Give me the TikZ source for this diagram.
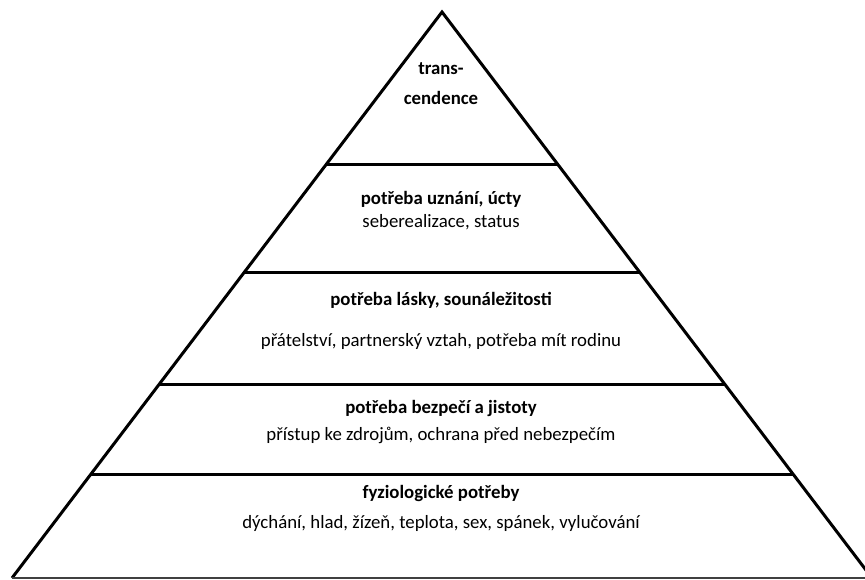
\documentclass[tikz,border=0pt]{standalone}
\usepackage{fontspec}
\setmainfont{Carlito}
\usetikzlibrary{calc}
\begin{document}
\begin{tikzpicture}[x=1pt,y=-1pt,
  edge/.style={line width=3pt,line join=miter},
  level/.style={line width=3pt},
  base/.style={line width=1.6pt,black!75},
  title/.style={font=\fontsize{18.8}{22}\selectfont\bfseries,inner sep=0pt,anchor=center},
  sub/.style={font=\fontsize{18.8}{22}\selectfont,inner sep=0pt,anchor=center}]
\useasboundingbox (0,0) rectangle (865,579);
\fill[white] (0,0) rectangle (865,579);
\clip (0,0) rectangle (865,579);
\coordinate (apex) at (442,12);
\coordinate (bl) at (12,578);
\coordinate (br) at (872,578);
\draw[edge] (bl) -- (apex) -- (br);
\draw[base] (bl) -- (br);
\draw[level] ($(apex)!0.2686!(bl)$) -- ($(apex)!0.2686!(br)$);
\draw[level] ($(apex)!0.4611!(bl)$) -- ($(apex)!0.4611!(br)$);
\draw[level] ($(apex)!0.6590!(bl)$) -- ($(apex)!0.6590!(br)$);
\draw[level] ($(apex)!0.8163!(bl)$) -- ($(apex)!0.8163!(br)$);
\node[title] (t5a) at (441,69) {trans-};
\node[title] (t5b) at (441,98) {cendence};
\node[title] (t4) at (441,199) {potřeba uznání, úcty};
\node[sub] (s4) at (441,222) {seberealizace, status};
\node[title] (t3) at (441,300) {potřeba lásky, sounáležitosti};
\node[sub] (s3) at (441,341) {přátelství, partnerský vztah, potřeba mít rodinu};
\node[title] (t2) at (441,408) {potřeba bezpečí a jistoty};
\node[sub] (s2) at (441,435) {přístup ke zdrojům, ochrana před nebezpečím};
\node[title] (t1) at (441,493) {fyziologické potřeby};
\node[sub] (s1) at (441,523) {dýchání, hlad, žízeň, teplota, sex, spánek, vylučování};
\end{tikzpicture}
\end{document}
